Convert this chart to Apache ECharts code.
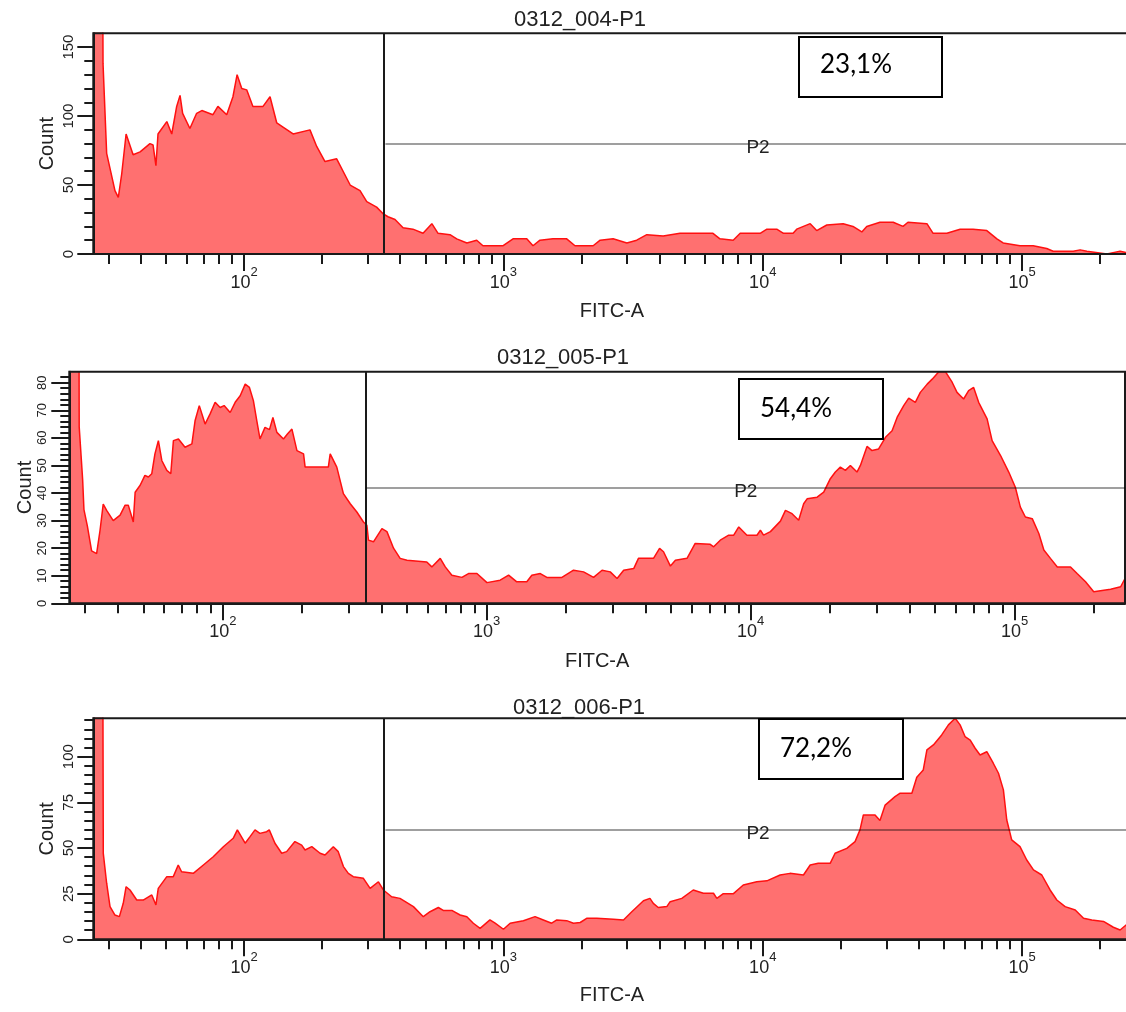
<!DOCTYPE html>
<html>
<head>
<meta charset="utf-8">
<script src="https://cdn.jsdelivr.net/npm/echarts@6/dist/echarts.min.js"></script>
<style>
  html, body { margin: 0; padding: 0; background: #fff; }
  #chart { width: 1126px; height: 1012px; }
</style>
</head>
<body>
<div id="chart"></div>
<script>
// FITC-A histograms for three samples with the P1 threshold and the P2 gate.
// Points are [log10(FITC-A), event count].

const sampleNames = ['0312_004-P1', '0312_005-P1', '0312_006-P1'];
const p2Percent = ['23,1%', '54,4%', '72,2%'];
const fitcRange = [1.4185, 5.4185];          // log10 of 26 .. 262144
const decadeExps = [2, 3, 4, 5];              // labelled decades 10^2 .. 10^5
const p2Start = 2.545;                        // log10 of gate start (~351)
const p2Level = [80, 42, 60];                 // height of the P2 gate bar
const countMax = [160, 84, 121];
const countStep = [50, 10, 25];

const sample004 = [
  [1.4185,400],[1.451,400],[1.456,138],[1.470,73],[1.502,46],[1.515,41],[1.528,58],[1.545,87],[1.572,72],[1.599,74],
  [1.637,80],[1.649,79],[1.660,64],[1.668,87],[1.702,96],[1.721,87],[1.740,107],[1.753,115],[1.763,102],[1.791,91],
  [1.817,102],[1.837,104],[1.880,101],[1.899,107],[1.933,101],[1.957,114],[1.973,130],[1.991,120],[2.010,119],[2.034,107],
  [2.073,107],[2.100,114],[2.126,95],[2.150,92],[2.189,87],[2.254,90],[2.280,78],[2.312,67],[2.357,69],[2.409,50],
  [2.447,46],[2.473,38],[2.511,34],[2.537,29],[2.555,27],[2.582,25],[2.613,19],[2.651,18],[2.690,15],[2.724,22],
  [2.748,15],[2.794,14],[2.820,11],[2.859,8],[2.897,10],[2.921,6],[2.999,6],[3.037,11],[3.090,11],[3.114,6],
  [3.141,10],[3.191,11],[3.244,11],[3.276,6],[3.346,6],[3.373,10],[3.423,11],[3.476,8],[3.514,10],[3.553,14],
  [3.616,13],[3.681,15],[3.808,15],[3.835,11],[3.886,10],[3.913,15],[3.990,15],[4.016,18],[4.054,18],[4.080,15],
  [4.117,15],[4.131,18],[4.183,22],[4.208,17],[4.247,21],[4.310,22],[4.348,20],[4.382,16],[4.401,20],[4.452,23],
  [4.503,23],[4.541,20],[4.560,23],[4.633,22],[4.657,15],[4.710,15],[4.761,18],[4.811,18],[4.864,17],[4.903,11],
  [4.927,8],[4.992,6],[5.043,6],[5.095,4],[5.120,2],[5.197,2],[5.224,3],[5.250,2],[5.327,0],[5.351,1],
  [5.378,2],[5.401,1],[5.4185,1]
];

const sample005 = [
  [1.4185,300],[1.451,300],[1.456,64],[1.469,45],[1.474,34],[1.487,28],[1.503,19],[1.522,18],[1.535,26.5],[1.547,36],
  [1.560,33.7],[1.585,30],[1.611,32],[1.630,35.6],[1.642,35.6],[1.661,29.5],[1.668,40.3],[1.687,42.8],[1.705,46.4],[1.718,45.8],
  [1.731,47],[1.743,54.2],[1.756,59],[1.769,51.8],[1.788,48.2],[1.803,47],[1.813,59],[1.832,59.6],[1.857,56.6],[1.883,57.8],
  [1.895,66.2],[1.911,71.7],[1.933,65],[1.952,68.7],[1.971,72.9],[1.990,71],[2.005,71.7],[2.028,69.2],[2.047,72.9],[2.066,75.3],
  [2.085,79.5],[2.101,78.3],[2.116,73.5],[2.129,66.2],[2.141,59.6],[2.160,63.8],[2.177,63],[2.190,67.4],[2.205,62],[2.230,59.6],
  [2.245,61.4],[2.262,63.2],[2.281,55.4],[2.306,54.2],[2.312,49.4],[2.400,49.4],[2.407,54.2],[2.432,49.4],[2.457,39.8],[2.483,36.1],
  [2.508,33.1],[2.533,29.5],[2.546,28.3],[2.552,22.9],[2.571,22.3],[2.603,27.1],[2.622,26],[2.647,20],[2.672,16.3],[2.698,15.6],
  [2.773,15],[2.792,13.2],[2.824,16.3],[2.843,13.2],[2.868,10.2],[2.906,9.4],[2.931,10.8],[2.963,10.8],[3.001,7.5],[3.051,8.4],
  [3.083,10.2],[3.114,7.8],[3.152,7.8],[3.171,10.2],[3.203,10.8],[3.228,9.4],[3.285,9.4],[3.329,12],[3.367,11.4],[3.405,9.4],
  [3.437,12],[3.468,11.4],[3.494,9],[3.519,12],[3.557,12.6],[3.575,16.3],[3.632,16.3],[3.655,19.9],[3.670,18.7],[3.696,13.5],
  [3.715,15.6],[3.759,16.3],[3.790,21.7],[3.847,21.4],[3.860,20.5],[3.885,22.9],[3.917,24.7],[3.936,24.7],[3.955,27.7],[3.986,24.7],
  [4.024,24.7],[4.037,26.5],[4.049,24.7],[4.075,26],[4.113,29.8],[4.132,33.7],[4.157,32.5],[4.182,30.1],[4.201,36.1],[4.214,37.9],
  [4.252,38.5],[4.277,40.3],[4.302,45.2],[4.321,47.6],[4.340,49.4],[4.359,48.2],[4.378,50],[4.403,47.6],[4.416,50],[4.441,56.9],
  [4.460,55.4],[4.485,56],[4.511,60.2],[4.536,62.6],[4.555,67.4],[4.580,71.7],[4.599,74.4],[4.624,72.9],[4.643,76.5],[4.669,79.5],
  [4.688,81.3],[4.713,84],[4.738,84],[4.764,80.1],[4.782,76.5],[4.807,74.1],[4.826,77.1],[4.845,78.3],[4.864,72.9],[4.896,66.9],
  [4.915,59],[4.947,53.6],[4.978,47.6],[5.003,42.1],[5.022,34.9],[5.041,31.3],[5.067,30.7],[5.092,25.3],[5.111,19.3],[5.136,16.3],
  [5.162,13.2],[5.212,13.2],[5.237,10.8],[5.269,7.8],[5.300,4.2],[5.364,5.1],[5.402,6],[5.4185,9]
];

const sample006 = [
  [1.4185,400],[1.451,400],[1.457,47],[1.470,30.7],[1.483,17.9],[1.502,13.3],[1.519,12.4],[1.534,19.7],[1.545,28.8],[1.560,27],
  [1.586,21.5],[1.611,21.5],[1.644,24.3],[1.660,18.8],[1.669,27.9],[1.702,34.3],[1.727,34.3],[1.746,40.7],[1.759,37],[1.804,36.1],
  [1.843,40.7],[1.881,45.2],[1.920,50.7],[1.958,55.3],[1.974,59.9],[2.004,52.6],[2.023,56.2],[2.042,59.9],[2.061,58],[2.087,58.9],
  [2.097,59.9],[2.119,52.6],[2.145,47.1],[2.164,48],[2.196,53.5],[2.222,51.6],[2.235,48.9],[2.261,50.7],[2.293,47.1],[2.312,46.2],
  [2.344,50.7],[2.363,48],[2.383,39.8],[2.402,36.1],[2.421,34.3],[2.460,33.4],[2.486,27.9],[2.518,31.5],[2.537,27],[2.569,23.3],
  [2.601,22.4],[2.653,17.9],[2.691,12.4],[2.717,15.1],[2.749,17.4],[2.768,15.8],[2.801,15.8],[2.833,13.3],[2.859,12.4],[2.884,8.8],
  [2.910,6],[2.948,10.6],[2.968,8.8],[3.000,5.5],[3.026,8.8],[3.077,10.2],[3.122,12.4],[3.154,10.6],[3.186,8.8],[3.206,10.6],
  [3.244,10.2],[3.270,8.8],[3.296,9.2],[3.321,11.5],[3.360,11.5],[3.424,11],[3.463,10.6],[3.495,15.1],[3.540,21.1],[3.565,22.4],
  [3.578,19.7],[3.597,17.4],[3.630,17.9],[3.643,20.6],[3.688,22.4],[3.732,27],[3.771,25.2],[3.810,25.2],[3.823,22.4],[3.848,25],
  [3.887,25],[3.925,29.7],[3.977,31.5],[4.016,32],[4.067,35.2],[4.105,36.1],[4.157,35.2],[4.183,40.7],[4.214,41.6],[4.260,41.6],
  [4.279,47.1],[4.324,49.8],[4.356,53.5],[4.375,59.9],[4.388,68.1],[4.433,68.1],[4.452,65],[4.472,73.5],[4.510,78.1],[4.530,80],
  [4.575,80],[4.594,88.7],[4.619,92.7],[4.633,103.7],[4.658,106.4],[4.690,111.9],[4.716,117.4],[4.742,121],[4.761,117.4],[4.780,111],
  [4.800,109.1],[4.819,104.6],[4.838,100.9],[4.864,102.7],[4.889,96.4],[4.909,90.9],[4.928,81.8],[4.941,65.3],[4.960,54.4],[4.992,50.7],
  [5.018,43.4],[5.044,38],[5.076,35.2],[5.108,27],[5.134,21.5],[5.166,17.9],[5.205,16],[5.237,11.5],[5.269,10.6],[5.314,9.8],
  [5.352,6.6],[5.378,5.1],[5.401,7.8],[5.4185,8]
];

const samples = [sample004, sample005, sample006];

// Plot boxes and text placement for each panel
const layout = [
  { left: 93.3, top: 33.3, width: 1037.3, height: 220.7, yFont: 15, yMargin: 17, yMajor: 16, yNameGap: 36, xNameGap: 47,
    titleX: 580, titleY: 20, box: [799, 37, 143, 60], pctX: 820, pctY: 65 },
  { left: 69.3, top: 371.7, width: 1055.7, height: 231.6, yFont: 13, yMargin: 20, yMajor: 18, yNameGap: 34, xNameGap: 48,
    titleX: 563, titleY: 358, box: [739, 379, 144, 60], pctX: 760, pctY: 409 },
  { left: 93.3, top: 718.3, width: 1037.3, height: 221, yFont: 15, yMargin: 17, yMajor: 16, yNameGap: 36, xNameGap: 46,
    titleX: 579, titleY: 708, box: [759, 719, 144, 60], pctX: 780, pctY: 749 }
];

const FONT = "'Liberation Sans', Arial, sans-serif";
const INK = '#1a1a1a';

// minor ticks at 2..9 x 10^n inside the displayed range
const minorExps = [];
for (let d = 1; d <= 5; d++) {
  for (let m = 2; m <= 9; m++) {
    const e = Math.log10(m * Math.pow(10, d));
    if (e > fitcRange[0] && e < fitcRange[1]) minorExps.push(e);
  }
}

const grid = [], xAxis = [], yAxis = [], series = [], graphic = [];

layout.forEach((L, i) => {
  grid.push({
    left: L.left, top: L.top, width: L.width, height: L.height,
    show: true, borderColor: INK, borderWidth: 2, backgroundColor: 'transparent',
    z: 4, outerBoundsMode: 'none', containLabel: false
  });

  const majors = [];
  for (let v = 0; v <= countMax[i]; v += countStep[i]) majors.push(v);

  // decade ticks, labels and axis title
  xAxis.push({
    type: 'value', gridIndex: i, position: 'bottom', min: fitcRange[0], max: fitcRange[1], z: 5,
    name: 'FITC-A', nameLocation: 'middle', nameGap: L.xNameGap, nameMoveOverlap: false,
    nameTextStyle: { fontFamily: FONT, fontSize: 20, color: '#222' },
    axisLine: { show: true, onZero: false, lineStyle: { color: INK, width: 2 } },
    axisTick: { show: true, customValues: decadeExps, length: 17, lineStyle: { color: INK, width: 2 } },
    axisLabel: {
      show: true, customValues: decadeExps, margin: 12, color: '#222',
      formatter: v => '{b|10}{s|' + Math.round(v) + '}',
      rich: {
        b: { fontFamily: FONT, fontSize: 18, lineHeight: 26, verticalAlign: 'bottom', color: '#222' },
        s: { fontFamily: FONT, fontSize: 13, lineHeight: 14, verticalAlign: 'top', color: '#222' }
      }
    },
    splitLine: { show: false }
  });
  // 2..9 sub-decade ticks
  xAxis.push({
    type: 'value', gridIndex: i, position: 'bottom', min: fitcRange[0], max: fitcRange[1], z: 5,
    axisLine: { show: false },
    axisTick: { show: true, customValues: minorExps, length: 10, lineStyle: { color: INK, width: 2 } },
    axisLabel: { show: false },
    splitLine: { show: false }
  });

  yAxis.push({
    type: 'value', gridIndex: i, position: 'left', min: 0, max: countMax[i], interval: countStep[i], z: 5,
    name: 'Count', nameLocation: 'middle', nameRotate: 90, nameGap: L.yNameGap, nameMoveOverlap: false,
    nameTextStyle: { fontFamily: FONT, fontSize: 20, color: '#222' },
    axisLine: { show: true, lineStyle: { color: INK, width: 2 } },
    axisTick: { show: true, customValues: majors, length: L.yMajor, lineStyle: { color: INK, width: 2 } },
    minorTick: { show: true, splitNumber: 5, length: 9, lineStyle: { color: INK, width: 2 } },
    axisLabel: {
      show: true, customValues: majors, rotate: 90, margin: L.yMargin,
      fontFamily: FONT, fontSize: L.yFont, color: '#222'
    },
    splitLine: { show: false }, minorSplitLine: { show: false }
  });

  series.push({
    type: 'line', xAxisIndex: 2 * i, yAxisIndex: i,
    data: samples[i],
    symbol: 'none', showSymbol: false, smooth: false, clip: true, silent: true,
    lineStyle: { color: '#ff1010', width: 1.5 },
    itemStyle: { color: '#ff1010' },
    areaStyle: { color: '#ff7070', opacity: 1 },
    z: 2,
    markLine: {
      silent: true, symbol: ['none', 'none'], animation: false, z: 6,
      data: [
        { xAxis: p2Start, lineStyle: { color: INK, width: 2, type: 'solid' }, label: { show: false } },
        [
          {
            coord: [p2Start, p2Level[i]],
            lineStyle: { color: 'rgba(0,0,0,0.5)', width: 1.5, type: 'solid' },
            label: {
              show: true, formatter: 'P2', position: 'insideMiddleBottom', distance: -5,
              fontFamily: FONT, fontSize: 19, color: '#222'
            }
          },
          { coord: [fitcRange[1], p2Level[i]] }
        ]
      ]
    }
  });

  graphic.push(
    {
      type: 'text', x: L.titleX, y: L.titleY, z: 10, silent: true,
      style: { text: sampleNames[i], fontFamily: FONT, fontSize: 22, fill: '#222', align: 'center', verticalAlign: 'middle' }
    },
    {
      type: 'rect', z: 10, silent: true,
      shape: { x: L.box[0], y: L.box[1], width: L.box[2], height: L.box[3] },
      style: { fill: '#fff', stroke: '#000', lineWidth: 2 }
    },
    {
      type: 'text', x: L.pctX, y: L.pctY, z: 11, silent: true,
      style: { text: p2Percent[i], fontFamily: 'Lato, sans-serif', fontSize: 26, fill: '#000', align: 'left', verticalAlign: 'middle' }
    }
  );
});

const chart = echarts.init(document.getElementById('chart'), null, { renderer: 'canvas' });
chart.setOption({
  animation: false,
  backgroundColor: '#fff',
  grid, xAxis, yAxis, series, graphic
});
</script>
</body>
</html>
